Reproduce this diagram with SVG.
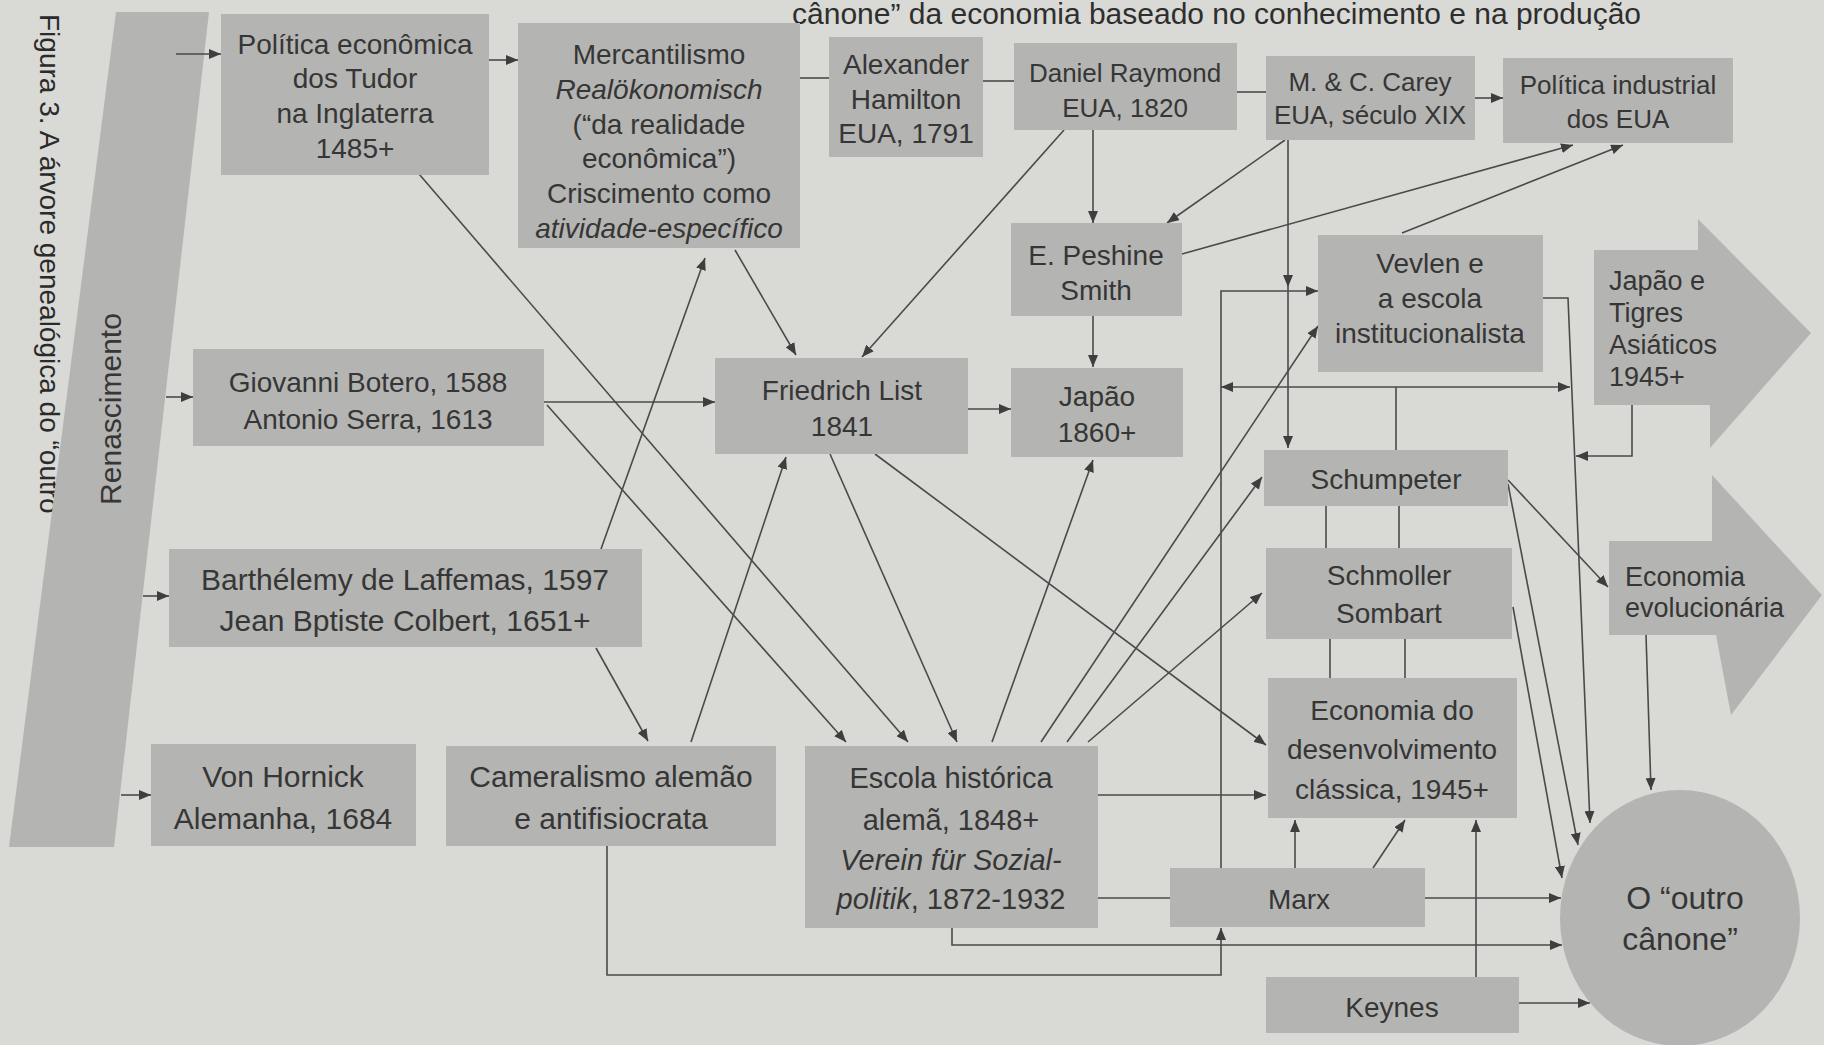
<svg xmlns="http://www.w3.org/2000/svg" width="1824" height="1045" viewBox="0 0 1824 1045">
<defs>
<style>
.bg{fill:#d9d9d5}
.box{fill:#b4b4b2}
.t{font-family:"Liberation Sans",Arial,sans-serif;font-size:28px;fill:#363636;text-anchor:middle}
.l{text-anchor:start}
.i{font-style:italic}
.s26{font-size:26px}
.s30{font-size:30px}
#connectors path{stroke:#4a4a4a;stroke-width:1.6;fill:none}
#connectors .a{marker-end:url(#ah)}
#connectors .d{marker-start:url(#ah);marker-end:url(#ah)}
</style>
<marker id="ah" viewBox="0 0 12 10" refX="12" refY="5" markerWidth="12" markerHeight="10" markerUnits="userSpaceOnUse" orient="auto-start-reverse">
<path d="M0,0 L12,5 L0,10 z" fill="#3e3e3e"/>
</marker>
<clipPath id="figclip" clipPathUnits="userSpaceOnUse"><rect x="0" y="0" width="90" height="522"/></clipPath>
</defs>
<rect class="bg" x="0" y="0" width="1824" height="1045"/>

<text class="t" x="1641" y="24" style="font-size:30px;text-anchor:end;fill:#2e2e2e">cânone” da economia baseado no conhecimento e na produção</text>
<g clip-path="url(#figclip)">
<text class="t" transform="translate(40,14) rotate(90)" style="text-anchor:start;fill:#2a2a2a">Figura 3. A árvore genealógica do “outro cânone”</text>
</g>

<g id="renascimento">
<polygon class="box" points="116,12 209,12 114,847 9,847"/>
<text class="t s30" transform="translate(121,409) rotate(-90)">Renascimento</text>
</g>

<g id="connectors">
<path class="a" d="M176,54 L221,54"/>
<path class="a" d="M166,397 L193,397"/>
<path class="a" d="M143,596 L169,596"/>
<path class="a" d="M121,795 L151,795"/>
<path class="a" d="M489,60 L518,60"/>
<path d="M800,78 L829,78"/>
<path d="M983,81 L1014,81"/>
<path d="M1237,92 L1266,92"/>
<path class="a" d="M1475,98 L1503,98"/>
<path class="a" d="M419,174 L908,742"/>
<path class="a" d="M735,250 L796,355"/>
<path class="a" d="M601,549 L705,258"/>
<path class="a" d="M691,742 L786,457"/>
<path class="a" d="M596,648 L648,741"/>
<path class="a" d="M544,402 L715,402"/>
<path class="a" d="M547,405 L846,742"/>
<path class="a" d="M830,454 L957,742"/>
<path class="a" d="M875,454 L1266,745"/>
<path class="a" d="M968,409 L1011,409"/>
<path class="a" d="M1064,130 L862,357"/>
<path class="a" d="M1093,130 L1093,223"/>
<path class="a" d="M1093,316 L1093,367"/>
<path class="a" d="M1285,140 L1167,223"/>
<path class="a" d="M1288,140 L1288,287"/>
<path class="a" d="M1288,287 L1288,448"/>
<path class="a" d="M1182,254 L1573,145"/>
<path class="a" d="M1402,233 L1623,145"/>
<path class="a" d="M1221,868 L1221,291 L1318,291"/>
<path class="d" d="M1221,387 L1570,387"/>
<path d="M1396,387 L1396,450"/>
<path class="a" d="M1543,298 L1568,298 L1590,823"/>
<path class="a" d="M1632,405 L1632,456 L1576,456"/>
<path class="a" d="M1508,480 L1608,587"/>
<path class="a" d="M1508,484 L1578,845"/>
<path class="a" d="M1513,607 L1562,878"/>
<path class="a" d="M1646,635 L1651,790"/>
<path d="M1326,506 L1326,548"/>
<path d="M1399,506 L1399,548"/>
<path d="M1330,639 L1330,678"/>
<path d="M1405,639 L1405,678"/>
<path class="a" d="M992,742 L1093,460"/>
<path class="a" d="M1041,742 L1318,326"/>
<path class="a" d="M1067,742 L1262,477"/>
<path class="a" d="M1088,742 L1262,593"/>
<path class="a" d="M1098,795 L1266,795"/>
<path d="M1098,898 L1170,898"/>
<path class="a" d="M952,928 L952,945 L1562,945"/>
<path class="a" d="M607,846 L607,975 L1221,975 L1221,928"/>
<path class="a" d="M1425,898 L1561,898"/>
<path class="a" d="M1295,868 L1295,820"/>
<path class="a" d="M1373,868 L1405,820"/>
<path class="a" d="M1476,977 L1476,820"/>
<path class="a" d="M1519,1003 L1590,1003"/>
</g>

<g id="tudor">
<rect class="box" x="221" y="14" width="268" height="161"/>
<text class="t" x="355" y="54">Política econômica</text>
<text class="t" x="355" y="88">dos Tudor</text>
<text class="t" x="355" y="123">na Inglaterra</text>
<text class="t" x="355" y="158">1485+</text>
</g>

<g id="mercantilismo">
<rect class="box" x="518" y="23" width="282" height="225"/>
<text class="t" x="659" y="64">Mercantilismo</text>
<text class="t i" x="659" y="99">Realökonomisch</text>
<text class="t" x="659" y="134">(“da realidade</text>
<text class="t" x="659" y="168">econômica”)</text>
<text class="t" x="659" y="203">Criscimento como</text>
<text class="t i" x="659" y="238">atividade-específico</text>
</g>

<g id="hamilton">
<rect class="box" x="829" y="37" width="154" height="120"/>
<text class="t" x="906" y="74">Alexander</text>
<text class="t" x="906" y="109">Hamilton</text>
<text class="t" x="906" y="143">EUA, 1791</text>
</g>

<g id="raymond">
<rect class="box" x="1014" y="43" width="223" height="87"/>
<text class="t s26" x="1125" y="82">Daniel Raymond</text>
<text class="t s26" x="1125" y="117">EUA, 1820</text>
</g>

<g id="carey">
<rect class="box" x="1266" y="56" width="209" height="84"/>
<text class="t s26" x="1370" y="91">M. &amp; C. Carey</text>
<text class="t s26" x="1370" y="124">EUA, século XIX</text>
</g>

<g id="politica-industrial">
<rect class="box" x="1503" y="58" width="230" height="85"/>
<text class="t s26" x="1618" y="94">Política industrial</text>
<text class="t s26" x="1618" y="128">dos EUA</text>
</g>

<g id="peshine">
<rect class="box" x="1011" y="223" width="171" height="93"/>
<text class="t" x="1096" y="265">E. Peshine</text>
<text class="t" x="1096" y="300">Smith</text>
</g>

<g id="vevlen">
<rect class="box" x="1318" y="235" width="225" height="137"/>
<text class="t" x="1430" y="273">Vevlen e</text>
<text class="t" x="1430" y="308">a escola</text>
<text class="t" x="1430" y="343">institucionalista</text>
</g>

<g id="japao-tigres">
<polygon class="box" points="1594,250 1698,250 1698,219 1811,333 1710,448 1710,405 1594,405"/>
<text class="t l" x="1609" y="290" style="font-size:27px">Japão e</text>
<text class="t l" x="1609" y="322" style="font-size:27px">Tigres</text>
<text class="t l" x="1609" y="354" style="font-size:27px">Asiáticos</text>
<text class="t l" x="1609" y="386" style="font-size:27px">1945+</text>
</g>

<g id="list">
<rect class="box" x="715" y="358" width="253" height="96"/>
<text class="t" x="842" y="400">Friedrich List</text>
<text class="t" x="842" y="436">1841</text>
</g>

<g id="japao">
<rect class="box" x="1011" y="368" width="172" height="89"/>
<text class="t" x="1097" y="406">Japão</text>
<text class="t" x="1097" y="442">1860+</text>
</g>

<g id="botero">
<rect class="box" x="193" y="349" width="351" height="97"/>
<text class="t" x="368" y="392">Giovanni Botero, 1588</text>
<text class="t" x="368" y="429">Antonio Serra, 1613</text>
</g>

<g id="schumpeter">
<rect class="box" x="1264" y="450" width="244" height="56"/>
<text class="t" x="1386" y="489">Schumpeter</text>
</g>

<g id="schmoller">
<rect class="box" x="1266" y="548" width="246" height="91"/>
<text class="t" x="1389" y="585">Schmoller</text>
<text class="t" x="1389" y="623">Sombart</text>
</g>

<g id="economia-evolucionaria">
<polygon class="box" points="1609,541 1712,541 1712,475 1822,595 1731,715 1716,635 1609,635"/>
<text class="t l" x="1625" y="586" style="font-size:27px">Economia</text>
<text class="t l" x="1625" y="617" style="font-size:27px">evolucionária</text>
</g>

<g id="barthelemy">
<rect class="box" x="169" y="549" width="473" height="98"/>
<text class="t s30" x="405" y="590">Barthélemy de Laffemas, 1597</text>
<text class="t s30" x="405" y="631">Jean Bptiste Colbert, 1651+</text>
</g>

<g id="economia-desenvolvimento">
<rect class="box" x="1268" y="678" width="249" height="140"/>
<text class="t" x="1392" y="720">Economia do</text>
<text class="t" x="1392" y="759">desenvolvimento</text>
<text class="t" x="1392" y="799">clássica, 1945+</text>
</g>

<g id="von-hornick">
<rect class="box" x="151" y="744" width="265" height="102"/>
<text class="t s30" x="283" y="787">Von Hornick</text>
<text class="t s30" x="283" y="829">Alemanha, 1684</text>
</g>

<g id="cameralismo">
<rect class="box" x="446" y="746" width="330" height="100"/>
<text class="t s30" x="611" y="787">Cameralismo alemão</text>
<text class="t s30" x="611" y="829">e antifisiocrata</text>
</g>

<g id="escola-historica">
<rect class="box" x="805" y="746" width="293" height="182"/>
<text class="t" x="951" y="788" style="font-size:29px">Escola histórica</text>
<text class="t" x="951" y="830" style="font-size:29px">alemã, 1848+</text>
<text class="t i" x="951" y="870" style="font-size:29px">Verein für Sozial-</text>
<text class="t" x="951" y="909" style="font-size:29px"><tspan class="i">politik</tspan>, 1872-1932</text>
</g>

<g id="marx">
<rect class="box" x="1170" y="868" width="255" height="59"/>
<text class="t" x="1299" y="909">Marx</text>
</g>

<g id="keynes">
<rect class="box" x="1266" y="977" width="253" height="56"/>
<text class="t" x="1392" y="1017">Keynes</text>
</g>

<g id="outro-canone">
<ellipse class="box" cx="1680" cy="918" rx="120" ry="128"/>
<text class="t" x="1685" y="909" style="font-size:32px">O “outro</text>
<text class="t" x="1680" y="950" style="font-size:32px">cânone”</text>
</g>
</svg>
